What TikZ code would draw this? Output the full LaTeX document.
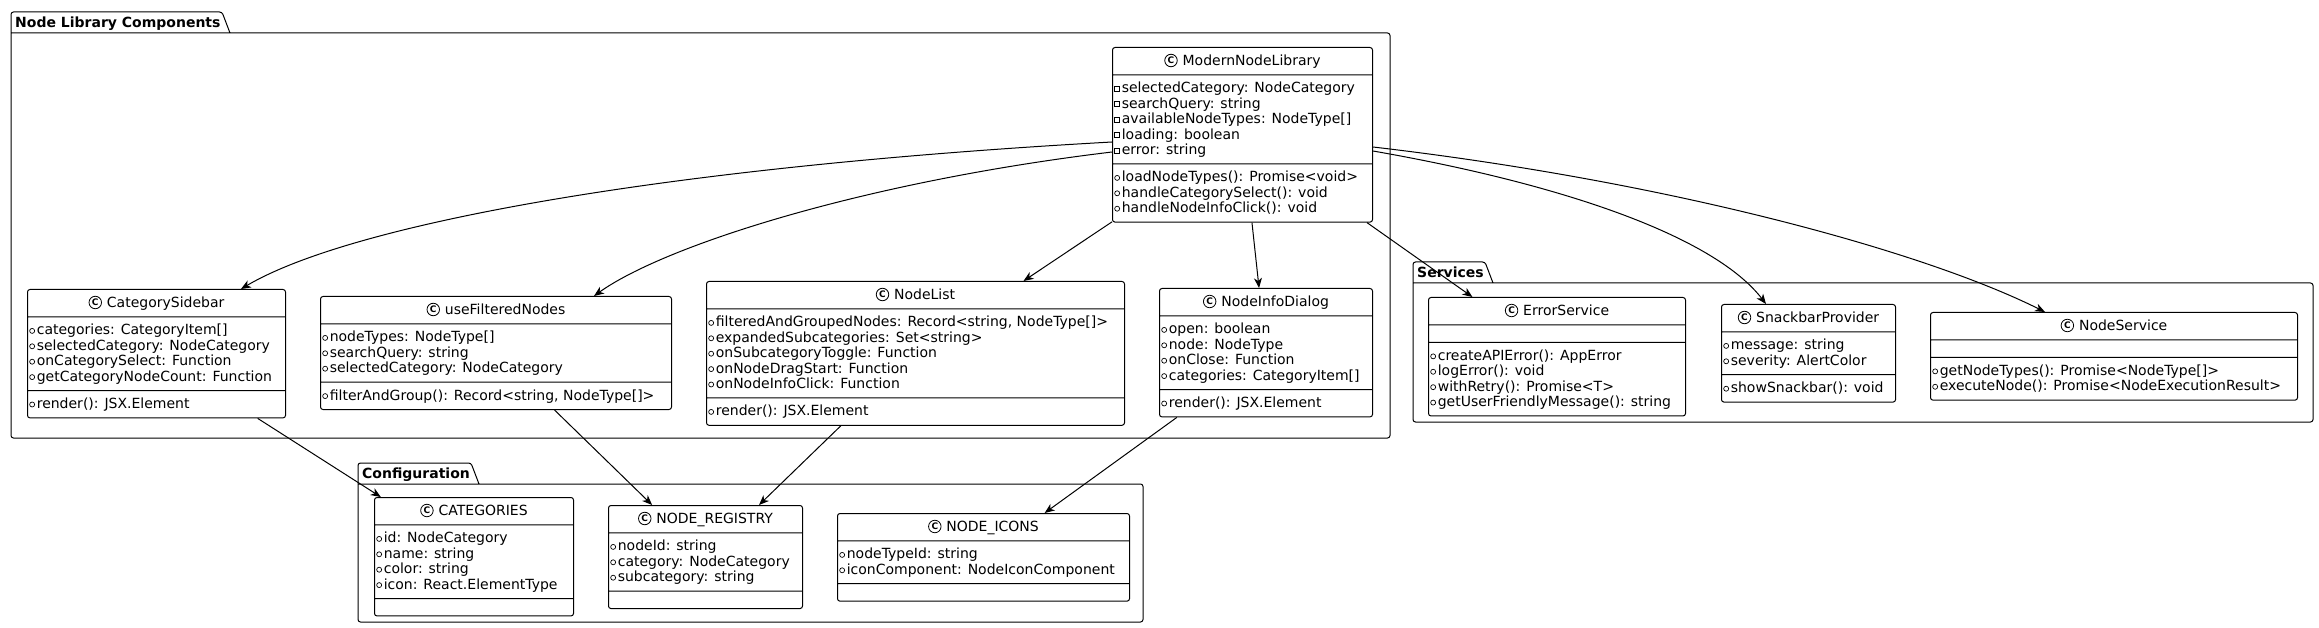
\documentclass[tikz,border=0pt]{standalone}
\usepackage{fontspec}
\setmainfont{DejaVu Sans}
\usepackage{tikz}
\usepackage{xcolor}
\usetikzlibrary{calc}
\usetikzlibrary{arrows.meta}
\usetikzlibrary{shapes.multipart}
\definecolor{umllinec}{HTML}{000000}
\colorlet{umlfillc}{white}
\colorlet{umltextc}{black}
\newcommand{\classfont}{\fontsize{14}{15.4}\selectfont}
\newcommand{\lstrut}{\rule[-3.4pt]{0pt}{15.4pt}}
\newcommand{\cc}{% class
\lstrut\tikz[baseline={([yshift=-5pt]char.center)}]{
    \node[circle, draw=umlline, fill=umlfill, line width=0.8pt, inner sep=0pt, minimum size=12.5pt, anchor=center, font=\bfseries\fontsize{9}{9}\selectfont] (char) {C};
}\hspace{5pt}}
\newcommand{\pb}{% public member
\lstrut\tikz[baseline={([yshift=-4pt]vis.center)}]{
    \node[circle, draw=umlline, fill=umlfill, line width=0.7pt, inner sep=0pt, minimum size=5pt, anchor=center] (vis) {};
}\hspace{1.8pt}}
\newcommand{\pv}{% private member
\lstrut\tikz[baseline={([yshift=-4pt]vis.center)}]{
    \node[rectangle, sharp corners, draw=umlline, fill=umlfill, line width=0.7pt, inner sep=0pt, minimum size=5pt, anchor=center] (vis) {};
}\hspace{1.8pt}}
\tikzstyle{umlclass} =[
    draw=umlline,
    fill=umlfill,
    line width=1pt,
    rectangle split,
    rectangle split parts=3,
    rectangle split part align={center,left,left},
    rectangle split empty part height=0pt,
    rectangle split empty part depth=0pt,
    rectangle split ignore empty parts=false,
    rounded corners=2.5pt,
    align=left,
    inner xsep=1.8pt,
    inner ysep=5.5pt,
    anchor=north west,
    font=\classfont
    ]
\tikzstyle{pkgline} = [
    draw=umlline,
    line width=1pt,
    rounded corners=2.5pt
    ]
\tikzstyle{pkgtitle} = [
    text=umltext,
    font=\classfont\bfseries,
    anchor=base west,
    inner sep=0pt
    ]
\tikzstyle{dep} = [
    draw=umlline,
    line width=1pt,
    -{Stealth[length=10pt, width=8pt, inset=3pt]}
    ]
\colorlet{umlline}{umllinec}
\colorlet{umlfill}{umlfillc}
\colorlet{umltext}{umltextc}

\begin{document}
\classfont
\begin{tikzpicture}[x=1pt, y=-1pt]
\path[fill=white, use as bounding box] (0,0) rectangle (2319,628);

% packages
\draw[pkgline] (230,33) -- (222,12) -- (11,12) -- (11,438) -- (1390,438) -- (1390,33) -- (11,33);
\node[pkgtitle] (nlcT) at (15,27.5) {Node Library Components};
\draw[pkgline] (1493,283) -- (1485,262) -- (1413,262) -- (1413,422) -- (2313,422) -- (2313,283) -- (1413,283);
\node[pkgtitle] (svcT) at (1417,277.5) {Services};
\draw[pkgline] (479,484) -- (471,463) -- (358,463) -- (358,622) -- (1143,622) -- (1143,484) -- (358,484);
\node[pkgtitle] (cfgT) at (362,478.5) {Configuration};

% Node Library Components
\node[umlclass, minimum width=260pt] (mnl) at (1112,47) {\cc ModernNodeLibrary
    \nodepart{two}\pv selectedCategory: NodeCategory\\\pv searchQuery: string\\\pv availableNodeTypes: NodeType[]\\\pv loading: boolean\\\pv error: string
    \nodepart{three}\pb loadNodeTypes(): Promise<void>\\\pb handleCategorySelect(): void\\\pb handleNodeInfoClick(): void};
\node[umlclass, minimum width=258pt] (csb) at (27,289) {\cc CategorySidebar
    \nodepart{two}\pb categories: CategoryItem[]\\\pb selectedCategory: NodeCategory\\\pb onCategorySelect: Function\\\pb getCategoryNodeCount: Function
    \nodepart{three}\pb render(): JSX.Element};
\node[umlclass, minimum width=351pt] (ufn) at (320,296) {\cc useFilteredNodes
    \nodepart{two}\pb nodeTypes: NodeType[]\\\pb searchQuery: string\\\pb selectedCategory: NodeCategory
    \nodepart{three}\pb filterAndGroup(): Record<string, NodeType[]>};
\node[umlclass, minimum width=418pt] (nlist) at (706,281) {\cc NodeList
    \nodepart{two}\pb filteredAndGroupedNodes: Record<string, NodeType[]>\\\pb expandedSubcategories: Set<string>\\\pb onSubcategoryToggle: Function\\\pb onNodeDragStart: Function\\\pb onNodeInfoClick: Function
    \nodepart{three}\pb render(): JSX.Element};
\node[umlclass, minimum width=213pt] (nid) at (1159,288) {\cc NodeInfoDialog
    \nodepart{two}\pb open: boolean\\\pb node: NodeType\\\pb onClose: Function\\\pb categories: CategoryItem[]
    \nodepart{three}\pb render(): JSX.Element};

% Services
\node[umlclass, minimum width=257pt] (errsvc) at (1428,297) {\cc ErrorService
    \nodepart{two}
    \nodepart{three}\pb createAPIError(): AppError\\\pb logError(): void\\\pb withRetry(): Promise<T>\\\pb getUserFriendlyMessage(): string};
\node[umlclass, minimum width=174pt] (snack) at (1721,304) {\cc SnackbarProvider
    \nodepart{two}\pb message: string\\\pb severity: AlertColor
    \nodepart{three}\pb showSnackbar(): void};
\node[umlclass, minimum width=367pt] (nodesvc) at (1930,312) {\cc NodeService
    \nodepart{two}
    \nodepart{three}\pb getNodeTypes(): Promise<NodeType[]>\\\pb executeNode(): Promise<NodeExecutionResult>};

% Configuration
\node[umlclass, minimum width=199pt] (cats) at (374,497) {\cc CATEGORIES
    \nodepart{two}\pb id: NodeCategory\\\pb name: string\\\pb color: string\\\pb icon: React.ElementType
    \nodepart{three}};
\node[umlclass, minimum width=194pt] (nreg) at (608,505) {\cc NODE\_REGISTRY
    \nodepart{two}\pb nodeId: string\\\pb category: NodeCategory\\\pb subcategory: string
    \nodepart{three}};
\node[umlclass, minimum width=292pt] (nicons) at (837,513) {\cc NODE\_ICONS
    \nodepart{two}\pb nodeTypeId: string\\\pb iconComponent: NodeIconComponent
    \nodepart{three}};

% dependencies
\draw[dep] ($(mnl.north west)+(0,95)$) .. controls +(-450,25) and +(110,-65) .. ($(csb.north west)+(214,0)$);
\draw[dep] ($(mnl.north west)+(0,105)$) .. controls +(-250,30) and +(70,-50) .. ($(ufn.north west)+(274,0)$);
\draw[dep] (mnl) -- (nlist);
\draw[dep] (mnl) -- (nid);
\draw[dep] (mnl) -- (errsvc);
\draw[dep] ($(mnl.north east)+(0,104)$) .. controls +(200,35) and +(-50,-65) .. ($(snack.north west)+(45,0)$);
\draw[dep] ($(mnl.north east)+(0,100)$) .. controls +(300,35) and +(-120,-60) .. ($(nodesvc.north west)+(115,0)$);
\draw[dep] (csb) -- (cats);
\draw[dep] (ufn) -- (nreg);
\draw[dep] (nlist) -- (nreg);
\draw[dep] (nid) -- (nicons);
\end{tikzpicture}
\end{document}
